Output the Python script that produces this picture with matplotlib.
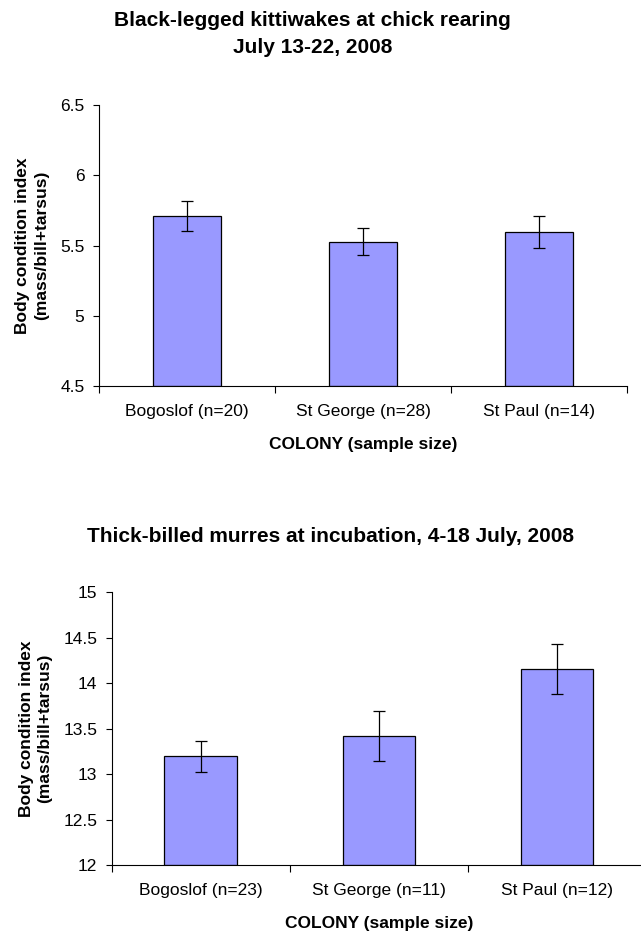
import matplotlib
matplotlib.use("Agg")
import matplotlib.pyplot as plt
from matplotlib.ticker import FuncFormatter

plt.rcParams['font.family'] = ['Liberation Sans', 'DejaVu Sans']

# kittiwakes
kit_labels = ['Bogoslof (n=20)', 'St George (n=28)', 'St Paul (n=14)']
kit_means = [5.71, 5.527, 5.595]
kit_err = [0.107, 0.098, 0.112]

# murres
mur_labels = ['Bogoslof (n=23)', 'St George (n=11)', 'St Paul (n=12)']
mur_means = [13.195, 13.42, 14.157]
mur_err = [0.175, 0.27, 0.275]


def bar_panel(ax, labels, means, errs, ylim, step, bar_w):
    x = range(len(labels))
    ax.bar(x, [m - ylim[0] for m in means], bottom=ylim[0], width=bar_w,
           color='#9999ff', edgecolor='black', linewidth=0.9, zorder=2)
    ax.errorbar(x, means, yerr=errs, fmt='none', ecolor='black',
                elinewidth=0.9, capsize=4, capthick=0.9, zorder=3)
    ax.set_xlim(-0.5, len(labels) - 0.5)
    ax.set_ylim(*ylim)
    ticks = []
    v = ylim[0]
    while v <= ylim[1] + 1e-9:
        ticks.append(round(v, 2))
        v += step
    ax.set_yticks(ticks)
    ax.yaxis.set_major_formatter(FuncFormatter(lambda v, p: '%g' % v))
    ax.set_xticks(list(x))
    ax.set_xticklabels(labels, fontsize=12.5)
    ax.set_xticks([i - 0.5 for i in range(len(labels) + 1)], minor=True)
    ax.tick_params(axis='x', which='major', length=0, pad=13)
    ax.tick_params(axis='x', which='minor', length=5, width=0.8, direction='out')
    ax.tick_params(axis='y', length=4.5, width=0.8, labelsize=12.5, pad=6)
    for s in ['top', 'right']:
        ax.spines[s].set_visible(False)
    for s in ['left', 'bottom']:
        ax.spines[s].set_linewidth(0.8)
    ax.set_ylabel('Body condition index\n(mass/bill+tarsus)', fontsize=12.5,
                  fontweight='bold', labelpad=8, linespacing=1.3)
    ax.set_xlabel('COLONY (sample size)', fontsize=12.5, fontweight='bold', labelpad=13)


fig = plt.figure(figsize=(6.41, 9.34), dpi=100)

ax1 = fig.add_axes([0.1544, 0.5867, 0.8237, 0.3009])
bar_panel(ax1, kit_labels, kit_means, kit_err, (4.5, 6.5), 0.5, 0.39)
fig.text(0.4875, 0.9722, 'Black-legged kittiwakes at chick rearing',
         ha='center', va='baseline', fontsize=15, fontweight='bold')
fig.text(0.4875, 0.9433, 'July 13-22, 2008',
         ha='center', va='baseline', fontsize=15, fontweight='bold')

ax2 = fig.add_axes([0.1747, 0.0739, 0.8331, 0.2918])
bar_panel(ax2, mur_labels, mur_means, mur_err, (12, 15), 0.5, 0.41)
fig.text(0.515, 0.4197, 'Thick-billed murres at incubation, 4-18 July, 2008',
         ha='center', va='baseline', fontsize=15, fontweight='bold')

fig.savefig('out.png', dpi=100)
